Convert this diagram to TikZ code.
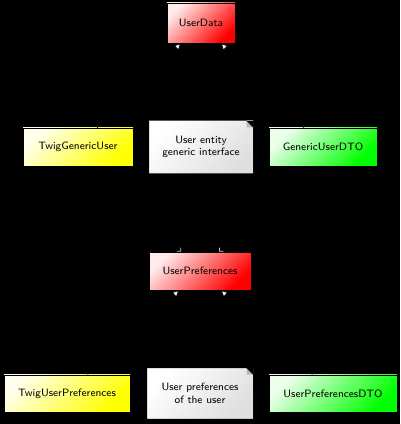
\documentclass[tikz,border=0pt]{standalone}
\usepackage{tikz}
\usetikzlibrary{arrows.meta}

\begin{document}
\begin{tikzpicture}[x=0.75pt,y=-0.75pt,
    cls/.style={draw=black, line width=0.5pt, inner sep=2pt, minimum height=28.5pt,
        font=\sffamily\fontsize{8}{9.5}\selectfont},
    redcls/.style={cls, left color=red!8, middle color=red!60, right color=red, shading angle=45},
    yellowcls/.style={cls, left color=yellow!8, middle color=yellow!75, right color=yellow, shading angle=45},
    greencls/.style={cls, left color=green!8, middle color=green!60, right color=green, shading angle=45},
    notebox/.style={cls, draw=none, left color=white, right color=gray!25,
        shading angle=45, align=center, minimum width=78pt, minimum height=39pt},
    inherit/.style={draw=black, line width=0.5pt, -{Triangle[fill=white, length=5pt, width=5pt]}},
    assoc/.style={draw=black, line width=0.5pt, -{Straight Barb[gray!45, length=2pt]}},
    noteline/.style={draw=black, line width=0.5pt, dashed}]

    % Background
    \useasboundingbox (0,0) rectangle (400,424);
    \fill[black] (0,0) rectangle (400,424);

    % Define the dog-eared note outline
    \def\dogear#1{
        \fill[black] ([xshift=-5pt]#1.north east) -- (#1.north east)
            -- ([yshift=-5pt]#1.north east) -- cycle;
        \fill[gray!55] ([xshift=-5pt]#1.north east) -- ([yshift=-5pt]#1.north east)
            -- ([xshift=-5pt,yshift=-5pt]#1.north east) -- cycle;
        \draw[black, line width=0.5pt] (#1.north west) -- ([xshift=-5pt]#1.north east)
            -- ([yshift=-5pt]#1.north east) -- (#1.south east)
            -- (#1.south west) -- cycle;
    }

    % User entity
    \node[redcls, minimum width=51pt, minimum height=30pt] (ud) at (201,23) {UserData};
    \node[yellowcls, minimum width=82.5pt] (tgu) at (78,147) {TwigGenericUser};
    \node[notebox] (n1) at (201,147) {User entity\\generic interface};
    \node[greencls, minimum width=81pt] (gdto) at (323,147) {GenericUserDTO};
    \dogear{n1}

    % User preferences
    \node[redcls, minimum width=76.5pt] (up) at (200,271) {UserPreferences};
    \node[yellowcls, minimum width=94.5pt, minimum height=28pt] (tup) at (67,393.5) {TwigUserPreferences};
    \node[notebox, minimum width=79.5pt, minimum height=38pt] (n2) at (200,393.5) {User preferences\\of the user};
    \node[greencls, minimum width=96pt, minimum height=28pt] (updto) at (333,393.5) {UserPreferencesDTO};
    \dogear{n2}

    % Connectors
    \draw[inherit] (tgu) -- (ud);
    \draw[inherit] (gdto) -- (ud);
    \draw[noteline] (ud) -- (n1);
    \draw[assoc] (tgu) -- (up);
    \draw[assoc] (gdto) -- (up);
    \draw[inherit] (tup) -- (up);
    \draw[inherit] (updto) -- (up);
    \draw[noteline] (up) -- (n2);
\end{tikzpicture}
\end{document}
